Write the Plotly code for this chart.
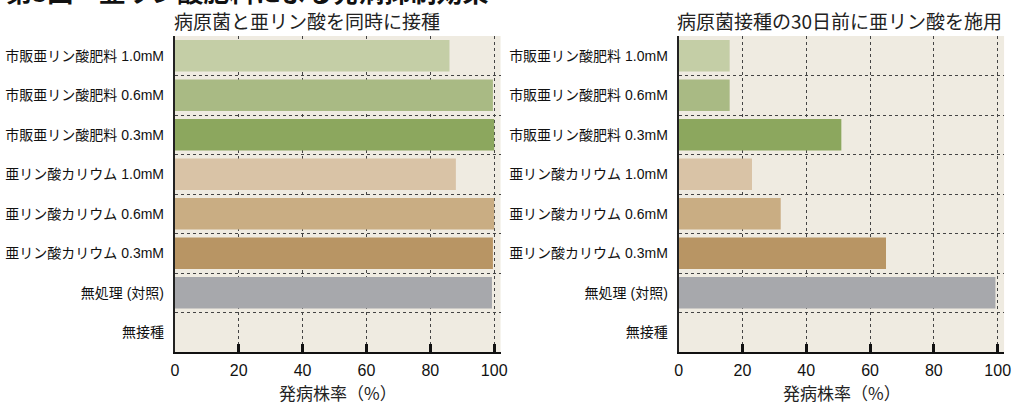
import plotly.graph_objects as go

categories = [
    "市販亜リン酸肥料 1.0mM",
    "市販亜リン酸肥料 0.6mM",
    "市販亜リン酸肥料 0.3mM",
    "亜リン酸カリウム 1.0mM",
    "亜リン酸カリウム 0.6mM",
    "亜リン酸カリウム 0.3mM",
    "無処理 (対照)",
    "無接種",
]
simultaneous = [86, 99.6, 100, 88, 100, 99.6, 99.3, 0]
before30 = [16, 16, 51, 23, 32, 65, 99.3, 0]
bar_colors = ["#c4cea6", "#a9ba84", "#8ca75e", "#d9c3a6", "#c9ad83", "#b89564", "#a7a8ac", "#a7a8ac"]
x_ticks = [0, 20, 40, 60, 80, 100]

main_title = "第3図　亜リン酸肥料による発病抑制効果"
sub_left = "病原菌と亜リン酸を同時に接種"
sub_right = "病原菌接種の30日前に亜リン酸を施用"
x_title = "発病株率（%）"

BG = "#efebe1"
W, H = 1016, 403
ML, MR, MT, MB = 0, 0, 36, 51
dom1 = [172.7 / W, 502 / W]
dom2 = [682 / W, 1011 / W]
LAT_CJK = "Liberation Sans, Noto Sans CJK JP"

fig = go.Figure()
fig.add_trace(go.Bar(y=categories, x=simultaneous, orientation="h",
                     marker=dict(color=bar_colors, line=dict(width=0)),
                     width=0.8, xaxis="x", yaxis="y", showlegend=False))
fig.add_trace(go.Bar(y=categories, x=before30, orientation="h",
                     marker=dict(color=bar_colors, line=dict(width=0)),
                     width=0.8, xaxis="x2", yaxis="y2", showlegend=False))

xcommon = dict(range=[0, 102], tickvals=x_ticks, ticks="inside", ticklen=8, tickwidth=3,
               tickcolor="#111", showline=True, linecolor="#111", linewidth=2,
               showgrid=True, gridcolor="#444", griddash="dot", gridwidth=1,
               zeroline=False, tickfont=dict(family="Liberation Sans, Arial", size=16, color="#111"),
               ticklabelstandoff=3, fixedrange=True)
ycommon = dict(categoryorder="array", categoryarray=categories, autorange="reversed",
               tickson="boundaries", ticks="", showline=True, linecolor="#222", linewidth=2,
               showgrid=True, gridcolor="#444", griddash="dot", gridwidth=1, zeroline=False,
               tickfont=dict(family=LAT_CJK, size=14, color="#111"),
               ticklabelstandoff=6, fixedrange=True)

fig.update_layout(
    width=W, height=H,
    margin=dict(l=ML, r=MR, t=MT, b=MB),
    paper_bgcolor="white", plot_bgcolor=BG,
    bargap=0.2,
    xaxis=dict(domain=dom1, anchor="y", **xcommon),
    yaxis=dict(anchor="x", **ycommon),
    xaxis2=dict(domain=dom2, anchor="y2", **xcommon),
    yaxis2=dict(anchor="x2", **ycommon),
)

fig.update_layout(shapes=[
    dict(type="rect", xref="x2 domain", yref="y2 domain", x0=0, x1=1, y0=0, y1=1,
         fillcolor=BG, line=dict(width=0), layer="below"),
])

ph = H - MT - MB
for xr in ["x domain", "x2 domain"]:
    fig.add_annotation(text=x_title, xref=xr, yref="paper", x=165 / 329.3, y=-40 / ph,
                       xanchor="center", yanchor="middle", showarrow=False,
                       font=dict(family="Noto Sans CJK JP", size=17, color="#222"))
fig.add_annotation(text=sub_left, xref="paper", yref="paper", x=170 / W, y=1 + 15 / ph,
                   xanchor="left", yanchor="middle", showarrow=False,
                   font=dict(family="Noto Sans CJK JP", size=19, color="#222"))
fig.add_annotation(text=sub_right, xref="paper", yref="paper", x=678 / W, y=1 + 15 / ph,
                   xanchor="left", yanchor="middle", showarrow=False,
                   font=dict(family="Noto Sans CJK JP", size=19, color="#222"))
fig.add_annotation(text="<b>" + main_title + "</b>", xref="paper", yref="paper", x=0, y=1 + 45 / ph,
                   xanchor="left", yanchor="middle", showarrow=False,
                   font=dict(family="Noto Sans CJK JP", size=26, color="#111"))

fig.write_html("out.html", config={"displayModeBar": False, "staticPlot": True},
               post_script="document.body.style.margin='0';document.body.style.overflow='hidden';")
